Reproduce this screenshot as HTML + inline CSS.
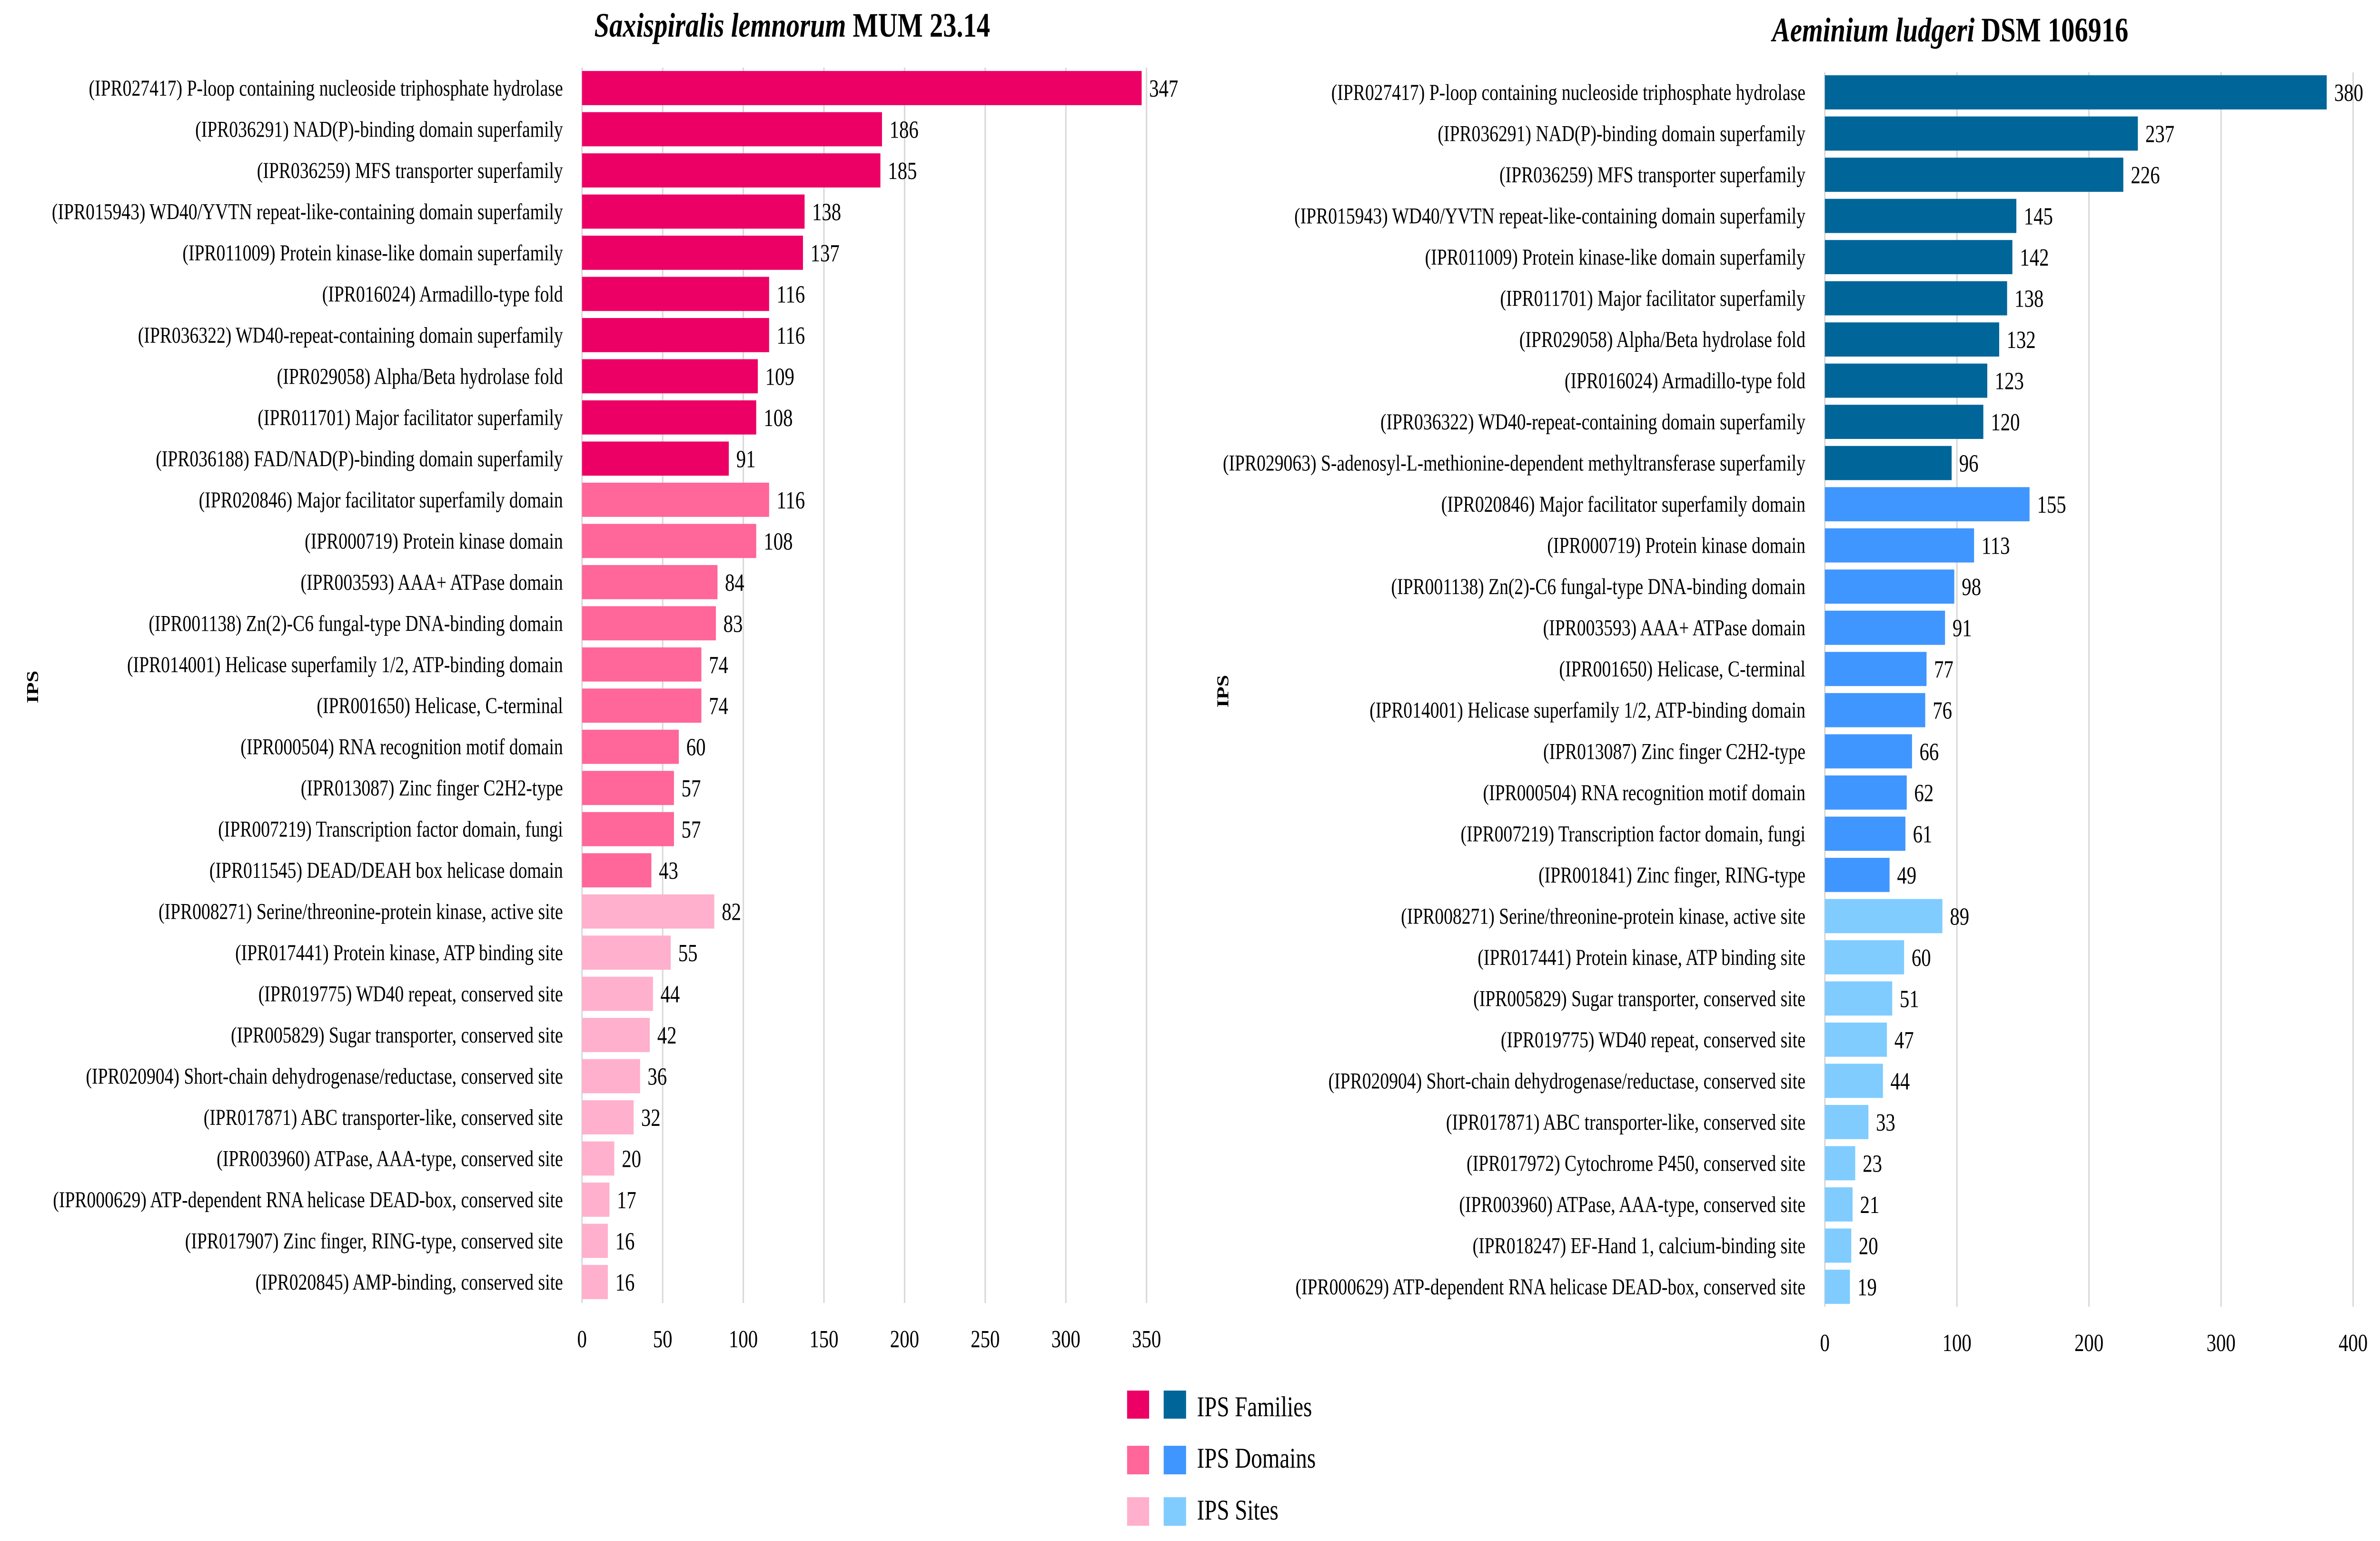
<!DOCTYPE html>
<html><head><meta charset="utf-8">
<meta name="viewport" content="width=6375">
<style>
html,body{margin:0;padding:0;background:#fff;overflow:hidden;width:100vw;height:100vh;}
svg{display:block;font-family:"Liberation Serif",serif;width:100vw;height:100vh;}
</style></head>
<body>
<svg id="chart" viewBox="0 0 6375 3237" preserveAspectRatio="none" xmlns="http://www.w3.org/2000/svg">
<rect width="6375" height="3237" fill="#fff"/>
<text x="2122" y="77" text-anchor="middle" font-size="72" font-weight="bold"><tspan font-style="italic">Saxispiralis lemnorum</tspan> MUM 23.14</text>
<text x="5224" y="87" text-anchor="middle" font-size="72" font-weight="bold"><tspan font-style="italic">Aeminium ludgeri</tspan> DSM 106916</text>
<text transform="translate(102,1443) rotate(-90)" text-anchor="middle" font-size="44" font-weight="bold">IPS</text>
<text transform="translate(3290,1452) rotate(-90)" text-anchor="middle" font-size="44" font-weight="bold">IPS</text>
<g id="left"></g>
<g id="right"></g>
<g>
 <rect x="3019" y="2921" width="59" height="59" fill="#EC0066"/>
 <rect x="3117" y="2921" width="60" height="59" fill="#006699"/>
 <text x="3206" y="2975" font-size="60">IPS Families</text>
 <rect x="3019" y="3037" width="59" height="60" fill="#FF6699"/>
 <rect x="3117" y="3037" width="60" height="60" fill="#4096FF"/>
 <text x="3206" y="3083" font-size="60">IPS Domains</text>
 <rect x="3019" y="3145" width="59" height="60" fill="#FFB0CC"/>
 <rect x="3117" y="3145" width="60" height="60" fill="#80CCFF"/>
 <text x="3206" y="3192" font-size="60">IPS Sites</text>
</g>
</svg>
<script>
const leftCategories = [
"(IPR027417) P-loop containing nucleoside triphosphate hydrolase","(IPR036291) NAD(P)-binding domain superfamily","(IPR036259) MFS transporter superfamily","(IPR015943) WD40/YVTN repeat-like-containing domain superfamily","(IPR011009) Protein kinase-like domain superfamily","(IPR016024) Armadillo-type fold","(IPR036322) WD40-repeat-containing domain superfamily","(IPR029058) Alpha/Beta hydrolase fold","(IPR011701) Major facilitator superfamily","(IPR036188) FAD/NAD(P)-binding domain superfamily",
"(IPR020846) Major facilitator superfamily domain","(IPR000719) Protein kinase domain","(IPR003593) AAA+ ATPase domain","(IPR001138) Zn(2)-C6 fungal-type DNA-binding domain","(IPR014001) Helicase superfamily 1/2, ATP-binding domain","(IPR001650) Helicase, C-terminal","(IPR000504) RNA recognition motif domain","(IPR013087) Zinc finger C2H2-type","(IPR007219) Transcription factor domain, fungi","(IPR011545) DEAD/DEAH box helicase domain",
"(IPR008271) Serine/threonine-protein kinase, active site","(IPR017441) Protein kinase, ATP binding site","(IPR019775) WD40 repeat, conserved site","(IPR005829) Sugar transporter, conserved site","(IPR020904) Short-chain dehydrogenase/reductase, conserved site","(IPR017871) ABC transporter-like, conserved site","(IPR003960) ATPase, AAA-type, conserved site","(IPR000629) ATP-dependent RNA helicase DEAD-box, conserved site","(IPR017907) Zinc finger, RING-type, conserved site","(IPR020845) AMP-binding, conserved site"];
const leftValues = [347,186,185,138,137,116,116,109,108,91,116,108,84,83,74,74,60,57,57,43,82,55,44,42,36,32,20,17,16,16];
const leftTicks = [0,50,100,150,200,250,300,350];
const rightCategories = [
"(IPR027417) P-loop containing nucleoside triphosphate hydrolase","(IPR036291) NAD(P)-binding domain superfamily","(IPR036259) MFS transporter superfamily","(IPR015943) WD40/YVTN repeat-like-containing domain superfamily","(IPR011009) Protein kinase-like domain superfamily","(IPR011701) Major facilitator superfamily","(IPR029058) Alpha/Beta hydrolase fold","(IPR016024) Armadillo-type fold","(IPR036322) WD40-repeat-containing domain superfamily","(IPR029063) S-adenosyl-L-methionine-dependent methyltransferase superfamily",
"(IPR020846) Major facilitator superfamily domain","(IPR000719) Protein kinase domain","(IPR001138) Zn(2)-C6 fungal-type DNA-binding domain","(IPR003593) AAA+ ATPase domain","(IPR001650) Helicase, C-terminal","(IPR014001) Helicase superfamily 1/2, ATP-binding domain","(IPR013087) Zinc finger C2H2-type","(IPR000504) RNA recognition motif domain","(IPR007219) Transcription factor domain, fungi","(IPR001841) Zinc finger, RING-type",
"(IPR008271) Serine/threonine-protein kinase, active site","(IPR017441) Protein kinase, ATP binding site","(IPR005829) Sugar transporter, conserved site","(IPR019775) WD40 repeat, conserved site","(IPR020904) Short-chain dehydrogenase/reductase, conserved site","(IPR017871) ABC transporter-like, conserved site","(IPR017972) Cytochrome P450, conserved site","(IPR003960) ATPase, AAA-type, conserved site","(IPR018247) EF-Hand 1, calcium-binding site","(IPR000629) ATP-dependent RNA helicase DEAD-box, conserved site"];
const rightValues = [380,237,226,145,142,138,132,123,120,96,155,113,98,91,77,76,66,62,61,49,89,60,51,47,44,33,23,21,20,19];
const rightTicks = [0,100,200,300,400];
const groups = ["families","domains","sites"];

const NS = "http://www.w3.org/2000/svg";
function mk(tag, attrs, parent){const e=document.createElementNS(NS,tag);for(const k in attrs)e.setAttribute(k,attrs[k]);parent.appendChild(e);return e;}

function draw(g, cats, vals, ticks, cfg){
  const x = v => cfg.x0 + (v - ticks[0]) / (ticks[ticks.length-1] - ticks[0]) * (cfg.x1 - cfg.x0);
  const pitch = (cfg.lastC - cfg.firstC) / (cats.length - 1);
  const y = i => cfg.firstC + i * pitch;
  const bh = pitch * 0.83;
  ticks.forEach(t=>{
    const l = mk("line",{x1:x(t),x2:x(t),y1:cfg.gTop,y2:cfg.gBot,stroke:"#d9d9d9","stroke-width":4},g);
    
    
    const tx = mk("text",{x:x(t),y:cfg.tickY,"text-anchor":"middle","font-size":52},g);
    tx.textContent = t;
    
    
  });
  vals.forEach((v,i)=>{
    const grp = groups[Math.floor(i/10)];
    const r = mk("rect",{x:x(0),y:y(i)-bh/2,width:x(v)-x(0),height:bh,fill:cfg.colors[Math.floor(i/10)]},g);
    
    
    const vl = mk("text",{x:x(v)+20,y:y(i)+18,"font-size":52},g);
    vl.textContent = v;
    
    
    const cl = mk("text",{x:cfg.labelX,y:y(i)+16,"text-anchor":"end","font-size":48},g);
    cl.textContent = cats[i];
    
    
  });
}
draw(document.getElementById('left'), leftCategories, leftValues, leftTicks,
  {x0:1559,x1:3071,firstC:185,lastC:2693,gTop:142,gBot:2737,tickY:2830,labelX:1508,colors:["#EC0066","#FF6699","#FFB0CC"]});
draw(document.getElementById('right'), rightCategories, rightValues, rightTicks,
  {x0:4888,x1:6303,firstC:194,lastC:2703,gTop:152,gBot:2745,tickY:2838,labelX:4836,colors:["#006699","#4096FF","#80CCFF"]});
</script>
</body></html>
